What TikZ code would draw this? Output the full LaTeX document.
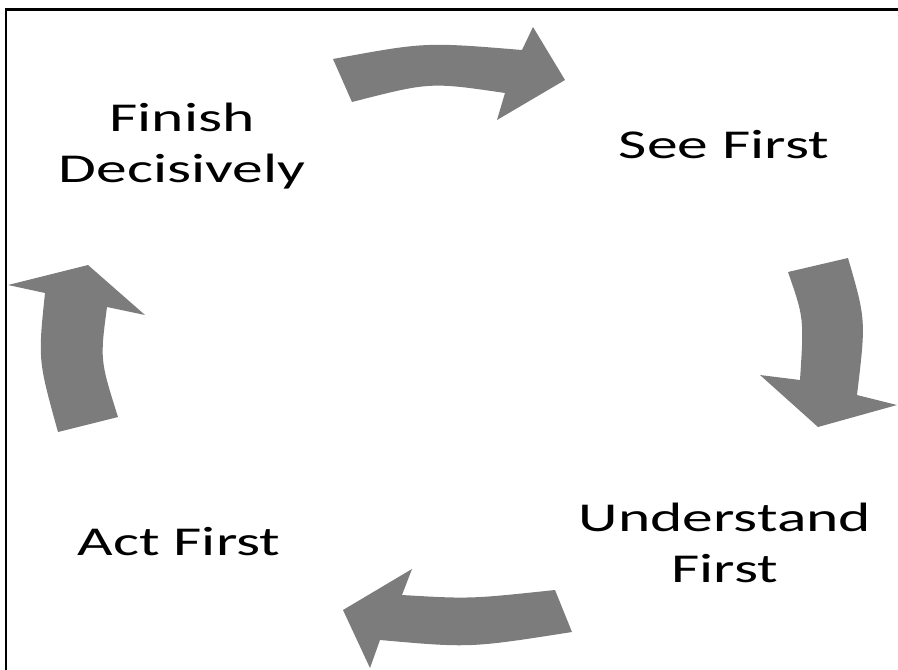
\documentclass[tikz,border=0pt]{standalone}
\usepackage{fontspec}
\newfontfamily\lblfont[FakeStretch=1.5]{Carlito}
\definecolor{arrowgray}{RGB}{124,124,124}
\begin{document}
\begin{tikzpicture}[x=1pt,y=-1pt,
  lbl/.style={inner sep=0pt, align=center, text=black,
    font=\lblfont\fontsize{41}{51}\selectfont},
  blockarrow/.style={fill=arrowgray, draw=none},
  frameline/.style={line width=2.5pt, black}]
\useasboundingbox (0,0) rectangle (898,670);

% frame (top and left edges)
\coordinate (fTL) at (6.2,9.5);
\coordinate (fTR) at (898,9.5);
\coordinate (fBL) at (6.2,670);
\draw[frameline] (fTR) -- (fTL) -- (fBL);

% stage labels (base anchor sits on the last line)
\node[lbl, anchor=base] (finish) at (182,182) {Finish\\Decisively};
\node[lbl, anchor=base] (see) at (724,158) {See First};
\node[lbl, anchor=base] (understand) at (725,582) {Understand\\First};
\node[lbl, anchor=base] (act) at (179,555) {Act First};

% curved block arrows of the cycle
% Finish Decisively -> See First
\fill[blockarrow] (333,59) .. controls (425,42) .. (522,50)
  -- (533,27) -- (565,80) -- (497,120) -- (505,93)
  .. controls (430,82) .. (352,102) -- cycle;
% See First -> Understand First
\fill[blockarrow] (788,272) -- (848,258) .. controls (866,320) .. (857,395)
  -- (897,405) -- (818,427) -- (760,375) -- (800,380)
  .. controls (804,318) .. cycle;
% Understand First -> Act First
\fill[blockarrow] (555,590) .. controls (470,599) .. (402,595)
  -- (412,569) -- (343,610) -- (370,668) -- (380,640)
  .. controls (470,648) .. (572,632) -- cycle;
% Act First -> Finish Decisively
\fill[blockarrow] (58,432) .. controls (38,360) .. (45,293)
  -- (8,285) -- (88,265) -- (145,315) -- (107,307)
  .. controls (100,360) .. (118,417) -- cycle;
\end{tikzpicture}
\end{document}
